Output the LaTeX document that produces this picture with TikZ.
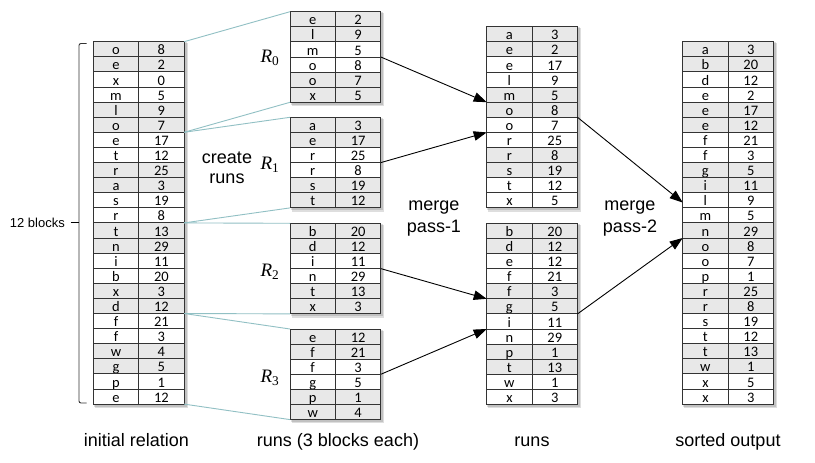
\documentclass[tikz,border=0pt]{standalone}
\usepackage{fontspec}
\setmainfont{Liberation Sans}
\newfontfamily\cellfont{Carlito}
\newfontfamily\rfont{Liberation Serif}
\usetikzlibrary{arrows.meta,calc}
\definecolor{cellgray}{HTML}{E8E8E8}
\definecolor{gridc}{HTML}{333333}
\definecolor{tealc}{RGB}{145,192,196}
\def\rh{15.1}
\def\cw{45.4}
\def\tw{90.8}
\tikzset{
  cell/.style={font=\cellfont\fontsize{14.5}{14.5}\selectfont, anchor=base, inner sep=0pt},
  gridline/.style={draw=gridc, line width=0.9pt},
  fanline/.style={draw=tealc, line width=0.9pt},
  arr/.style={draw=black, line width=0.9pt, -{Triangle[length=13pt,width=9.5pt]}},
  lbl/.style={font=\fontsize{18}{22}\selectfont, align=center, inner sep=0pt},
  caption/.style={font=\fontsize{18}{20}\selectfont, anchor=base, inner sep=0pt},
  rlbl/.style={font=\rfont\fontsize{19}{19}\selectfont, inner sep=0pt},
}
\newcommand\drawtable[5]{%
 \begin{scope}[shift={(#2,#3)}]
  \pgfmathsetmacro\tH{#4*\rh}
  \fill[black,opacity=.13] (1.5,1.5) rectangle (\tw+3.6,\tH+3.6);
  \fill[black,opacity=.13] (0.5,0.5) rectangle (\tw+2.4,\tH+2.4);
  \fill[white] (0,0) rectangle (\tw,\tH);
  \foreach[count=\i from 0] \a/\b in {#5}{
    \pgfmathtruncatemacro\g{mod(floor(\i/2),2)}
    \ifnum\g=0 \fill[cellgray] (0,\i*\rh) rectangle (\tw,\i*\rh+\rh);\fi
    \node[cell] (#1-a\i) at (\cw/2,\i*\rh+\rh-2) {\a};
    \node[cell] (#1-b\i) at (\cw*1.5,\i*\rh+\rh-2) {\b};
  }
  \foreach \k in {0,...,#4}{
    \coordinate (#1-L\k) at (0,\k*\rh);
    \coordinate (#1-R\k) at (\tw,\k*\rh);
    \draw[gridline] (0,\k*\rh) -- (\tw,\k*\rh);
  }
  \draw[gridline] (\cw,0) -- (\cw,\tH) (0,0) rectangle (\tw,\tH);
 \end{scope}}
\begin{document}
\begin{tikzpicture}[x=1pt,y=-1pt]
\useasboundingbox[fill=white] (0,0) rectangle (815,463);

\drawtable{rel}{93.3}{41.7}{24}{o/8,e/2,x/0,m/5,l/9,o/7,e/17,t/12,r/25,a/3,s/19,r/8,t/13,n/29,i/11,b/20,x/3,d/12,f/21,f/3,w/4,g/5,p/1,e/12}
\drawtable{Ra}{290}{11.7}{6}{e/2,l/9,m/5,o/8,o/7,x/5}
\drawtable{Rb}{290}{117.3}{6}{a/3,e/17,r/25,r/8,s/19,t/12}
\drawtable{Rc}{290}{223.3}{6}{b/20,d/12,i/11,n/29,t/13,x/3}
\drawtable{Rd}{290}{329}{6}{e/12,f/21,f/3,g/5,p/1,w/4}
\drawtable{Ma}{486.7}{26.7}{12}{a/3,e/2,e/17,l/9,m/5,o/8,o/7,r/25,r/8,s/19,t/12,x/5}
\drawtable{Mb}{486.7}{223.3}{12}{b/20,d/12,e/12,f/21,f/3,g/5,i/11,n/29,p/1,t/13,w/1,x/3}
\drawtable{S}{682.7}{41.7}{24}{a/3,b/20,d/12,e/2,e/17,e/12,f/21,f/3,g/5,i/11,l/9,m/5,n/29,o/8,o/7,p/1,r/25,r/8,s/19,t/12,t/13,w/1,x/5,x/3}

% fan lines from relation to runs
\draw[fanline] (rel-R0) -- (Ra-L0);
\draw[fanline] (rel-R6) -- (Ra-L6);
\draw[fanline] (rel-R6) -- (Rb-L0);
\draw[fanline] (rel-R12) -- (Rb-L6);
\draw[fanline] (rel-R12) -- (Rc-L0);
\draw[fanline] (rel-R18) -- (Rc-L6);
\draw[fanline] (rel-R18) -- (Rd-L0);
\draw[fanline] (rel-R24) -- (Rd-L6);

% merge arrows
\draw[arr] (Ra-R3) -- (Ma-L5);
\draw[arr] (Rb-R3) -- (Ma-L7);
\draw[arr] (Rc-R3) -- (Mb-L5);
\draw[arr] (Rd-R3) -- (Mb-L7);
\coordinate (Sin1) at ($(S-L10)!.65!(S-L11)$);
\draw[arr] (Ma-R6) -- (Sin1);
\draw[arr] (Mb-R6) -- (S-L13);

% brace
\draw[draw=gridc, line width=0.9pt, rounded corners=2pt] (86.5,43.5) -- (79,43.5) -- (79,403) -- (86.5,403);
\draw[draw=black, line width=1.8pt] (70.5,222.5) -- (79,222.5);
\node[font=\fontsize{13}{13}\selectfont, anchor=east, inner sep=0pt] (blk) at (65,222.5) {12 blocks};

% R labels
\node[rlbl] (r0) at (270,58) {\textit{R}\textsubscript{0}};
\node[rlbl] (r1) at (270,165) {\textit{R}\textsubscript{1}};
\node[rlbl] (r2) at (270,272) {\textit{R}\textsubscript{2}};
\node[rlbl] (r3) at (270,378) {\textit{R}\textsubscript{3}};

% step labels
\node[lbl, font=\fontsize{18}{20}\selectfont] (cr) at (227,168) {create\\runs};
\node[lbl] (mp1) at (434,219) {merge\\pass-1};
\node[lbl] (mp2) at (630,219) {merge\\pass-2};

% captions
\node[caption] (c1) at (136.5,446.7) {initial relation};
\node[caption] (c2) at (338,446.7) {runs (3 blocks each)};
\node[caption] (c3) at (532,446.7) {runs};
\node[caption] (c4) at (728,446.7) {sorted output};
\end{tikzpicture}
\end{document}
